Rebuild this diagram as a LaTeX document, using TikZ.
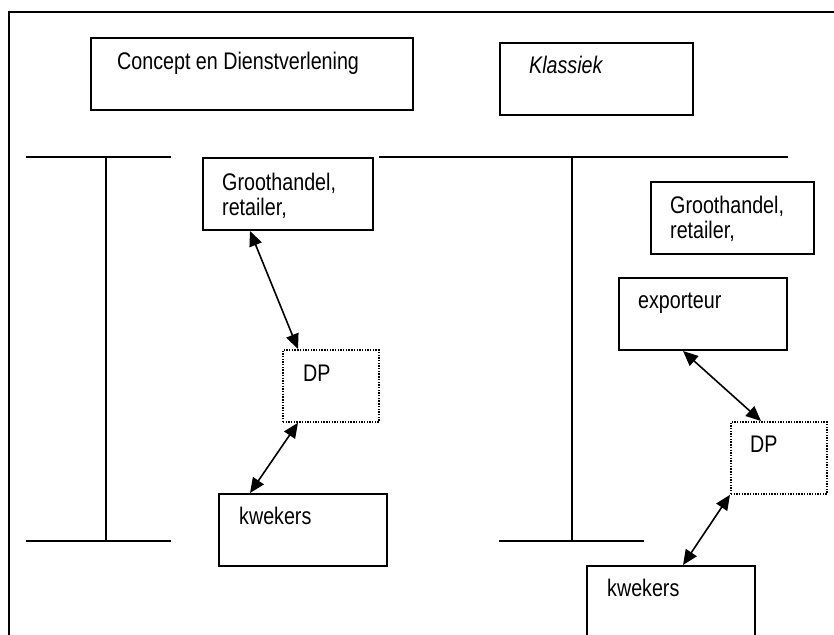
\documentclass[tikz,border=0pt]{standalone}
\usepackage{fontspec}
\setmainfont{Liberation Sans}[FakeStretch=0.82]
\usetikzlibrary{arrows.meta}
\tikzset{
  boxnode/.style={draw, line width=2pt, anchor=north west, inner sep=0pt, minimum width=#1},
  dpbox/.style={draw, line width=1.8pt, dash pattern=on 1.4pt off 1.3pt, anchor=north west, inner sep=0pt},
  txt/.style={anchor=base west, inner sep=0pt, font=\fontsize{24}{25}\selectfont},
  tline/.style={line width=1.5pt},
  dbl/.style={line width=1.6pt, {Triangle[length=15pt,width=13pt]}-{Triangle[length=15pt,width=13pt]}}
}
\begin{document}
\begin{tikzpicture}[x=1pt,y=-1pt]
\useasboundingbox (0,0) rectangle (834,634);
\clip (0,0) rectangle (834,634);
% frame
\draw[line width=2pt] (9,12) rectangle (860,660);
% title boxes
\node[boxnode=322pt, minimum height=72pt] (concept) at (90,37) {};
\node[txt] (concepttxt) at (117,70) {Concept en Dienstverlening};
\node[boxnode=193pt, minimum height=72pt] (klassiek) at (499,42) {};
\node[txt] (klassiektxt) at (529,73) {\itshape Klassiek};
% left T
\coordinate (lt1) at (26,157); \coordinate (lt2) at (171,157);
\coordinate (lv1) at (106,157); \coordinate (lv2) at (106,541);
\coordinate (lb1) at (26,541); \coordinate (lb2) at (171,541);
\draw[tline] (lt1) -- (lt2);
\draw[tline] (lv1) -- (lv2);
\draw[tline] (lb1) -- (lb2);
% right T
\coordinate (rt1) at (379,157); \coordinate (rt2) at (788,157);
\coordinate (rv1) at (572,157); \coordinate (rv2) at (572,541);
\coordinate (rb1) at (499,541); \coordinate (rb2) at (644,541);
\draw[tline] (rt1) -- (rt2);
\draw[tline] (rv1) -- (rv2);
\draw[tline] (rb1) -- (rb2);
% left column
\node[boxnode=170pt, minimum height=72pt] (gl) at (202,157) {};
\node[txt] (gltxt1) at (222,190.7) {Groothandel,};
\node[txt] (gltxt2) at (222,215) {retailer,};
\node[dpbox, minimum width=96pt, minimum height=72pt] (dpl) at (282,349) {};
\node[txt] (dpltxt) at (303,381) {DP};
\node[boxnode=168pt, minimum height=72pt] (kl) at (218,493) {};
\node[txt] (kltxt) at (239,524.5) {kwekers};
\draw[dbl] ([xshift=48pt]gl.south west) -- ([xshift=16pt]dpl.north west);
\draw[dbl] ([xshift=16pt]dpl.south west) -- ([xshift=32pt]kl.north west);
% right column
\node[boxnode=163pt, minimum height=72pt] (gr) at (650,181) {};
\node[txt] (grtxt1) at (670,213.3) {Groothandel,};
\node[txt] (grtxt2) at (670,238.3) {retailer,};
\node[boxnode=168pt, minimum height=72pt] (exp) at (618,277) {};
\node[txt] (exptxt) at (638,308.3) {exporteur};
\node[dpbox, minimum width=96pt, minimum height=72pt] (dpr) at (730,421) {};
\node[txt] (dprtxt) at (750,452.3) {DP};
\node[boxnode=168pt, minimum height=80pt] (kr) at (586,565) {};
\node[txt] (krtxt) at (607,596.7) {kwekers};
\draw[dbl] ([xshift=65pt]exp.south west) -- ([xshift=31pt]dpr.north west);
\draw[dbl] (dpr.south west) -- ([xshift=97pt]kr.north west);
\end{tikzpicture}
\end{document}
